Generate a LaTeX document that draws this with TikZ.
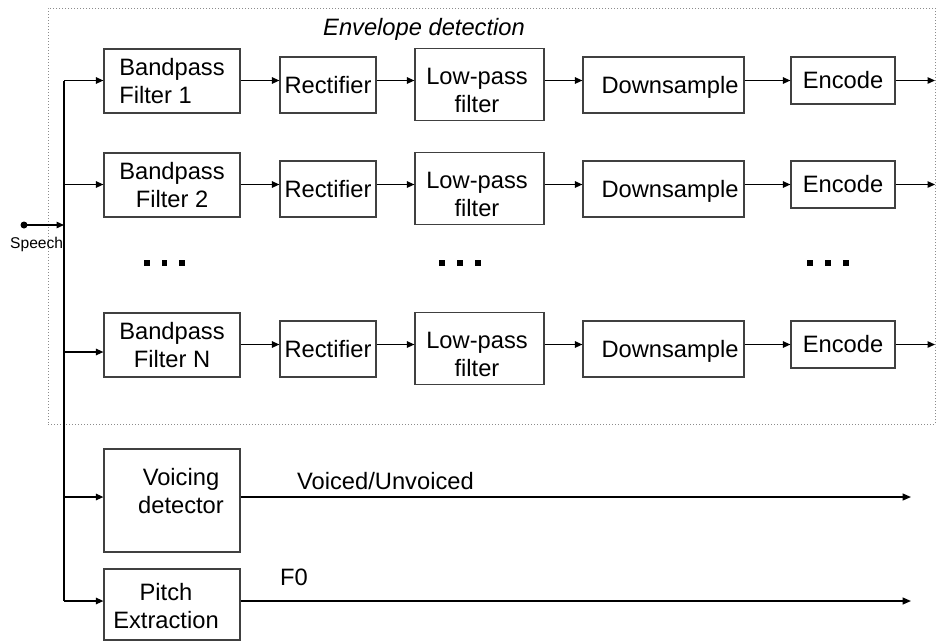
\documentclass[tikz,border=0pt]{standalone}
\usepackage{fontspec}
\setmainfont{Liberation Sans}
\usetikzlibrary{arrows.meta}
\definecolor{boxline}{HTML}{404040}
\definecolor{dotline}{HTML}{8C8C8C}
\begin{document}
\begin{tikzpicture}[x=1pt,y=-1pt,
  every node/.style={font=\fontsize{23.7}{28}\selectfont, inner sep=0pt},
  blk/.style={draw=boxline, line width=1.2pt, rectangle},
  arr/.style={-{Triangle[length=7.5pt,width=6.5pt]}, line width=1.3pt},
  outarr/.style={-{Triangle[length=8.5pt,width=7pt]}, line width=1.4pt},
  wire/.style={line width=1.3pt},
  ell/.style={fill=black, minimum size=5.5pt},
  txt/.style={align=center}]

\useasboundingbox (0,0) rectangle (940,641);

% envelope detection frame
\node[draw=dotline, dotted, line width=1pt, minimum width=887pt, minimum height=416pt] (env) at (491.5,216) {};
\node[anchor=base west, font=\fontsize{23.7}{28}\selectfont\itshape] (envl) at (323,35) {Envelope detection};

% row coordinates
\coordinate (r1) at (0,80.5);
\coordinate (r2) at (0,184.5);
\coordinate (rN) at (0,344.5);

% ---- row 1
\node[blk, minimum width=136pt, minimum height=64pt, align=left] (bp1) at (172,81) {Bandpass\\Filter 1};
\node[blk, minimum width=96pt, minimum height=56pt] (rc1) at (328,85) {Rectifier};
\node[blk, minimum width=129pt, minimum height=72pt] (lp1) at (479.5,84.5) {};
\node[txt] (lp1t) at (477,90.3) {Low-pass\\filter};
\node[blk, minimum width=161pt, minimum height=56pt, text depth=0pt] (ds1) at (663.5,85) {\hspace*{13pt}Downsample};
\node[blk, minimum width=104pt, minimum height=47pt] (en1) at (843,80.5) {Encode};
\coordinate (o1) at (935,80.5);

% ---- row 2
\node[blk, minimum width=136pt, minimum height=64pt, align=center] (bp2) at (172,185) {Bandpass\\Filter 2};
\node[blk, minimum width=96pt, minimum height=56pt] (rc2) at (328,189) {Rectifier};
\node[blk, minimum width=129pt, minimum height=72pt] (lp2) at (479.5,188.5) {};
\node[txt] (lp2t) at (477,194.3) {Low-pass\\filter};
\node[blk, minimum width=161pt, minimum height=56pt, text depth=0pt] (ds2) at (663.5,189) {\hspace*{13pt}Downsample};
\node[blk, minimum width=104pt, minimum height=47pt] (en2) at (843,184.5) {Encode};
\coordinate (o2) at (935,184.5);

% ---- row N
\node[blk, minimum width=136pt, minimum height=64pt, align=center] (bpN) at (172,345) {Bandpass\\Filter N};
\node[blk, minimum width=96pt, minimum height=56pt] (rcN) at (328,349) {Rectifier};
\node[blk, minimum width=129pt, minimum height=72pt] (lpN) at (479.5,348.5) {};
\node[txt] (lpNt) at (477,354.3) {Low-pass\\filter};
\node[blk, minimum width=161pt, minimum height=56pt, text depth=0pt] (dsN) at (663.5,349) {\hspace*{13pt}Downsample};
\node[blk, minimum width=104pt, minimum height=47pt] (enN) at (843,344.5) {Encode};
\coordinate (oN) at (935,344.5);

% row arrows
\foreach \r in {1,2,N} {
  \draw[arr] (bp\r.east |- r\r) -- (rc\r.west |- r\r);
  \draw[arr] (rc\r.east |- r\r) -- (lp\r.west |- r\r);
  \draw[arr] (lp\r.east |- r\r) -- (ds\r.west |- r\r);
  \draw[arr] (ds\r.east |- r\r) -- (en\r.west |- r\r);
  \draw[arr] (en\r.east |- r\r) -- (o\r);
}

% ellipsis marks
\node[ell] (d1a) at (147,263) {};
\node[ell] (d1b) at (164.5,263) {};
\node[ell] (d1c) at (182,263) {};
\node[ell] (d2a) at (442,263) {};
\node[ell] (d2b) at (460,263) {};
\node[ell] (d2c) at (478,263) {};
\node[ell] (d3a) at (810,263) {};
\node[ell] (d3b) at (828,263) {};
\node[ell] (d3c) at (846,263) {};

% voicing and pitch
\node[blk, minimum width=136pt, minimum height=103pt] (vd) at (172,500.5) {};
\node[txt] (vdt) at (181,491) {Voicing\\detector};
\node[blk, minimum width=136pt, minimum height=71pt] (pe) at (172,604.5) {};
\node[txt] (pet) at (166,606.5) {Pitch\\Extraction};

\coordinate (oV) at (911,497);
\coordinate (oP) at (911,601);
\draw[outarr] (vd.east |- oV) -- (oV);
\draw[outarr] (pe.east |- oP) -- (oP);
\node[anchor=base west] (vul) at (297,489) {Voiced/Unvoiced};
\node[anchor=base west] (f0l) at (280,585) {F0};

% speech input and bus
\coordinate (b1) at (64,80.5);
\coordinate (b2) at (64,184.5);
\coordinate (bN) at (64,352);
\coordinate (bV) at (64,497);
\coordinate (bP) at (64,601);
\coordinate (bS) at (64,225);
\node[circle, fill=black, minimum size=7pt] (sp) at (24,225) {};
\node[anchor=base west, font=\fontsize{15.6}{18}\selectfont] (spl) at (10,248.5) {Speech};
\draw[wire] (b1) -- (bP);
\draw[arr] (sp.center) -- (bS);
\draw[arr] (b1) -- (b1 -| bp1.west);
\draw[arr] (b2) -- (b2 -| bp2.west);
\draw[arr] (bN) -- (bN -| bpN.west);
\draw[arr] (bV) -- (bV -| vd.west);
\draw[arr] (bP) -- (bP -| pe.west);
\end{tikzpicture}
\end{document}
